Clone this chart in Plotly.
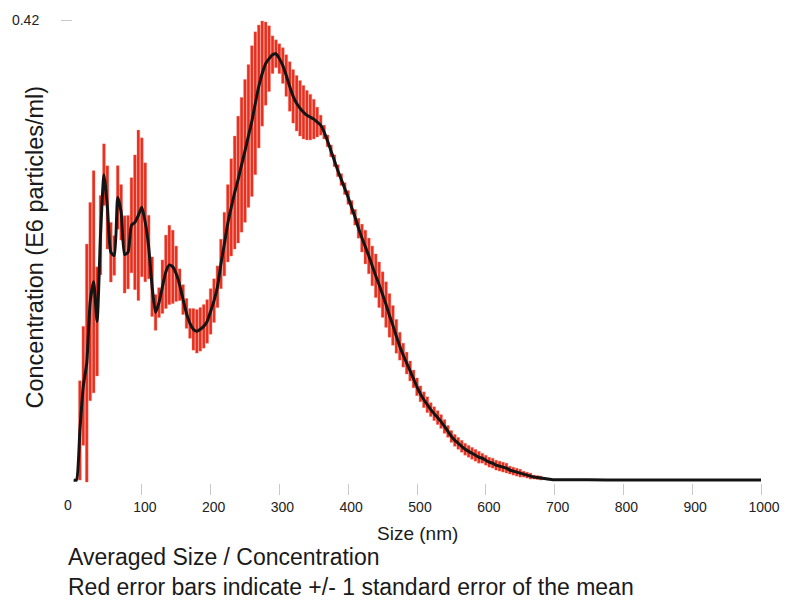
import plotly.graph_objects as go

# Particle size bins (nm), 5 nm apart
sizes = list(range(5, 705, 5))

# Mean concentration per bin (E6 particles/ml)
conc = [
    0.0, 0.0453, 0.0860, 0.1068, 0.1629, 0.1810, 0.1448, 0.2236, 0.2788, 0.2489,
    0.2080, 0.2050, 0.2580, 0.2444, 0.2060, 0.2080, 0.2326, 0.2353, 0.2417, 0.2490,
    0.2353, 0.2127, 0.1765, 0.1530, 0.1620, 0.1765, 0.1901, 0.1964, 0.1946, 0.1883,
    0.1783, 0.1647, 0.1521, 0.1430, 0.1376, 0.1358, 0.1376, 0.1403, 0.1448, 0.1539,
    0.1638, 0.1765, 0.1973, 0.2154, 0.2344, 0.2489, 0.2625, 0.2743, 0.2878, 0.3005,
    0.3141, 0.3277, 0.3440, 0.3593, 0.3711, 0.3802, 0.3847, 0.3883, 0.3892, 0.3847,
    0.3784, 0.3693, 0.3593, 0.3503, 0.3440, 0.3394, 0.3358, 0.3331, 0.3313, 0.3295,
    0.3268, 0.3240, 0.3177, 0.3096, 0.3005, 0.2915, 0.2824, 0.2743, 0.2661, 0.2580,
    0.2489, 0.2399, 0.2299, 0.2209, 0.2127, 0.2046, 0.1955, 0.1865, 0.1783, 0.1693,
    0.1602, 0.1503, 0.1412, 0.1312, 0.1222, 0.1140, 0.1068, 0.0996, 0.0923, 0.0851,
    0.0787, 0.0733, 0.0688, 0.0643, 0.0606, 0.0570, 0.0534, 0.0489, 0.0444, 0.0398,
    0.0362, 0.0335, 0.0308, 0.0281, 0.0262, 0.0244, 0.0226, 0.0208, 0.0199, 0.0181,
    0.0163, 0.0154, 0.0136, 0.0127, 0.0118, 0.0109, 0.0091, 0.0081, 0.0072, 0.0063,
    0.0054, 0.0045, 0.0036, 0.0027, 0.0023, 0.0018, 0.0014, 0.0009, 0.0005, 0.0003,
]

# Standard error of the mean per bin
sem = [
    0.0, 0.0453, 0.0543, 0.1086, 0.0905, 0.1014, 0.0498, 0.0362, 0.0281, 0.0380,
    0.0272, 0.0181, 0.0290, 0.0253, 0.0353, 0.0335, 0.0434, 0.0615, 0.0778, 0.0634,
    0.0543, 0.0290, 0.0272, 0.0163, 0.0136, 0.0244, 0.0335, 0.0362, 0.0335, 0.0253,
    0.0145, 0.0136, 0.0136, 0.0136, 0.0190, 0.0199, 0.0199, 0.0199, 0.0199, 0.0208,
    0.0199, 0.0190, 0.0226, 0.0290, 0.0353, 0.0444, 0.0516, 0.0579, 0.0615, 0.0652,
    0.0652, 0.0688, 0.0652, 0.0561, 0.0480, 0.0380, 0.0300, 0.0172, 0.0127, 0.0136,
    0.0163, 0.0190, 0.0226, 0.0244, 0.0253, 0.0253, 0.0244, 0.0226, 0.0208, 0.0181,
    0.0136, 0.0091, 0.0063, 0.0054, 0.0054, 0.0054, 0.0054, 0.0054, 0.0054, 0.0063,
    0.0063, 0.0072, 0.0091, 0.0127, 0.0154, 0.0163, 0.0181, 0.0199, 0.0208, 0.0208,
    0.0208, 0.0199, 0.0181, 0.0154, 0.0127, 0.0109, 0.0100, 0.0091, 0.0081, 0.0081,
    0.0072, 0.0072, 0.0072, 0.0063, 0.0063, 0.0063, 0.0063, 0.0063, 0.0054, 0.0054,
    0.0054, 0.0054, 0.0054, 0.0054, 0.0054, 0.0054, 0.0054, 0.0054, 0.0045, 0.0045,
    0.0045, 0.0045, 0.0045, 0.0045, 0.0045, 0.0045, 0.0036, 0.0036, 0.0036, 0.0036,
    0.0027, 0.0027, 0.0027, 0.0018, 0.0018, 0.0018, 0.0009, 0.0009, 0.0005, 0.0,
]

# Flat tail of the distribution out to 1000 nm
tail_sizes = [750, 800, 850, 900, 950, 1000]
tail_conc = [0.0002, 0.0001, 0.0001, 0.0, 0.0, 0.0]

# Ticked sizes; the origin carries a label but no tick mark
x_ticks = [100, 200, 300, 400, 500, 600, 700, 800, 900, 1000]
x_origin_label = "0"
y_ticks = [0.42]

FONT = "Liberation Sans, Arial, sans-serif"

fig = go.Figure()

# Red error bars: mean +/- 1 SEM drawn as thin bars
bar_x = [s for s, e in zip(sizes, sem) if e > 0]
bar_base = [c - e for c, e in zip(conc, sem) if e > 0]
bar_len = [2 * e for e in sem if e > 0]
fig.add_trace(go.Bar(
    x=bar_x, y=bar_len, base=bar_base, width=4.0,
    marker=dict(color="#e6301f", line=dict(color="rgba(242,110,96,0.9)", width=0.4)),
    hoverinfo="skip",
))

# Black mean curve
line_x = [1] + sizes + tail_sizes
line_y = [0.0] + conc + tail_conc
fig.add_trace(go.Scatter(
    x=line_x, y=line_y, mode="lines",
    line=dict(color="#141414", width=3, shape="spline", smoothing=0.55),
    hoverinfo="skip",
))

fig.update_layout(
    width=792, height=600,
    margin=dict(l=65, r=25, t=16, b=117),
    paper_bgcolor="white", plot_bgcolor="white",
    showlegend=False,
    font=dict(family=FONT, color="#1a1a1a"),
    xaxis=dict(
        range=[0, 1000], tickvals=x_ticks,
        ticks="outside", ticklen=11, tickwidth=1, tickcolor="#c8c8c8",
        ticklabelshift=3,
        showgrid=False, zeroline=False, showline=False,
        tickfont=dict(size=14, color="#222222", family=FONT),
    ),
    yaxis=dict(
        range=[-0.0027, 0.42], tickvals=y_ticks, ticktext=["0.42"],
        ticks="outside", ticklen=11, tickwidth=1, tickcolor="#c8c8c8",
        ticklabelstandoff=19,
        showgrid=False, zeroline=False, showline=False,
        tickfont=dict(size=14, color="#222222", family=FONT),
    ),
    annotations=[
        dict(text=x_origin_label, xref="x", yref="paper", x=0, y=0,
             xanchor="center", yanchor="middle", xshift=-5, yshift=-22,
             showarrow=False, font=dict(size=14, color="#222222", family=FONT)),
        dict(text="Size (nm)", xref="paper", yref="paper", x=0.5, y=0,
             xanchor="center", yanchor="middle", yshift=-50, showarrow=False,
             font=dict(size=19, color="#1a1a1a", family=FONT)),
        dict(text="Concentration (E6 particles/ml)", xref="paper", yref="paper",
             x=0, y=0.5, xanchor="center", yanchor="middle", xshift=-39, yshift=4,
             textangle=-90, showarrow=False,
             font=dict(size=23.5, color="#1a1a1a", family=FONT)),
        dict(text="Averaged Size / Concentration<br>"
                  "Red error bars indicate +/- 1 standard error of the mean",
             xref="paper", yref="paper", x=0, y=0, xanchor="left", align="left",
             yanchor="middle", xshift=-7, yshift=-89, showarrow=False,
             font=dict(size=23, color="#1a1a1a", family=FONT)),
    ],
)

fig.write_html("out.html")
